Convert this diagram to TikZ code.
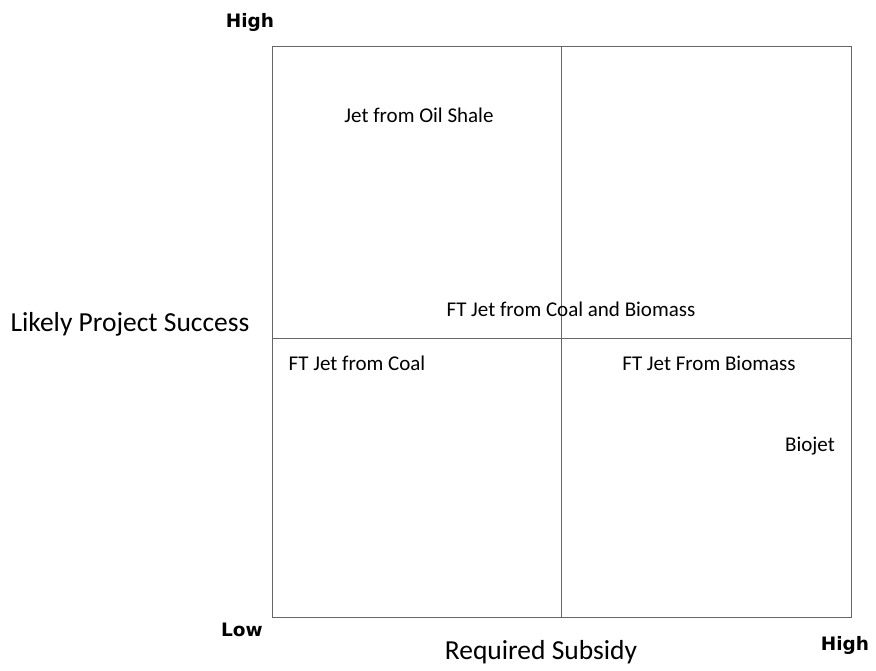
\documentclass[tikz,border=0pt]{standalone}
\usepackage{fontspec}
\setmainfont{Carlito}
\newfontfamily\axisfont{DejaVu Sans}
\usetikzlibrary{calc}

\begin{document}
\begin{tikzpicture}[x=1pt,y=-1pt,
        frame/.style = {draw=black!60, line width=.7pt},
        entry/.style = {font=\fontsize{21}{24}\selectfont, inner sep=0pt},
        axtitle/.style = {font=\fontsize{27.5}{30}\selectfont, inner sep=0pt},
        axend/.style = {font=\axisfont\bfseries\fontsize{18.5}{20}\selectfont, inner sep=0pt}]
        \useasboundingbox (0,0) rectangle (876,671);
        \draw[frame] (272,46) coordinate (TL) rectangle (851,617) coordinate (BR);
        \draw[frame] (561,46) coordinate (T) -- (561,617) coordinate (B);
        \draw[frame] (272,338) coordinate (L) -- (851,338) coordinate (R);

        \node[axend] (hiy) at (250,22) {High};
        \node[axend] (lo) at (242,630) {Low};
        \node[axend] (hix) at (845,645) {High};
        \node[axtitle] (xlab) at (541,652) {Required Subsidy};
        \node[axtitle] (ylab) at (130,324) {Likely Project Success};

        \node[entry] (shale) at (419,115) {Jet from Oil Shale};
        \node[entry] (cbtl) at (571,309) {FT Jet from Coal and Biomass};
        \node[entry] (ctl) at (357,363) {FT Jet from Coal};
        \node[entry] (btl) at (709,363) {FT Jet From Biomass};
        \node[entry] (bio) at (810,446) {Biojet};
\end{tikzpicture}
\end{document}
